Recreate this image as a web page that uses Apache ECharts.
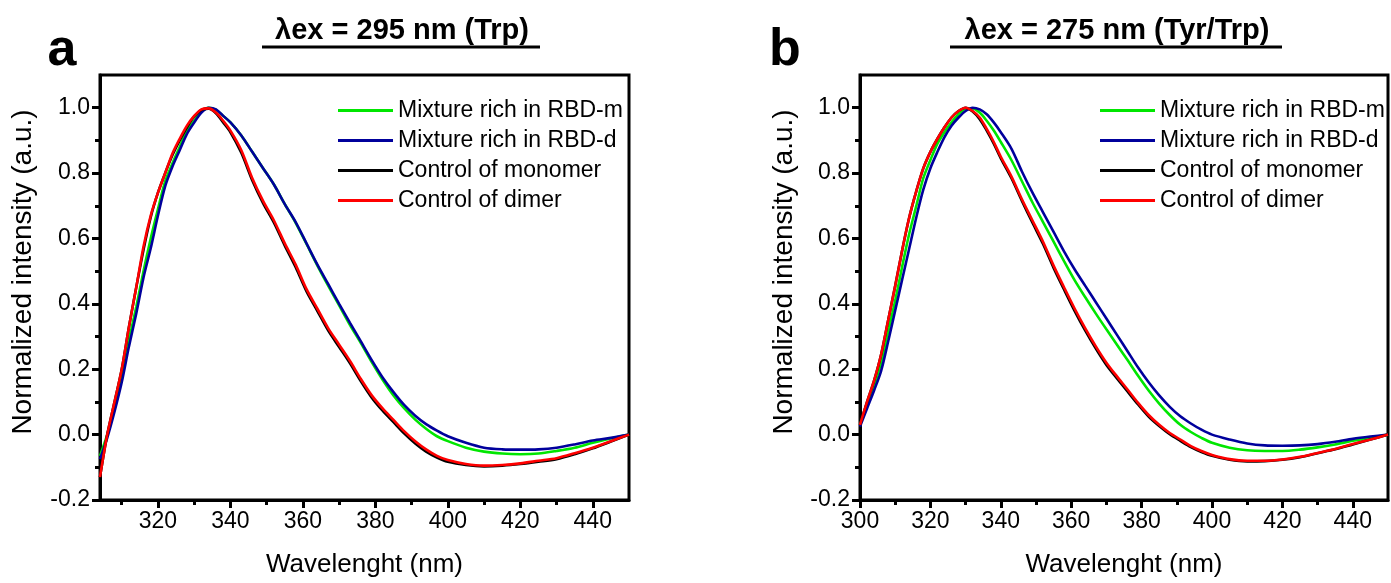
<!DOCTYPE html>
<html>
<head>
<meta charset="utf-8">
<script src="https://cdn.jsdelivr.net/npm/echarts@6/dist/echarts.min.js"></script>
<style>
  html, body { margin: 0; padding: 0; background: #fff; }
  #chart { width: 1391px; height: 583px; }
</style>
</head>
<body>
<div id="chart"></div>
<script>
// names of the four spectra (legend order)
const seriesNames = ['Mixture rich in RBD-m', 'Mixture rich in RBD-d', 'Control of monomer', 'Control of dimer'];
const seriesColors = ['#00e600', '#00009c', '#000000', '#ff0000'];

// panel a : lambda ex = 295 nm
const waveA = [304, 306, 308, 310, 312, 314, 316, 318, 320, 322, 324, 326, 328, 330, 332, 334, 336, 338, 340, 343, 346, 349, 352, 355, 358, 361, 364, 367, 370, 373, 376, 379, 382, 385, 388, 391, 394, 397, 400, 405, 410, 415, 420, 425, 430, 435, 440, 445, 450];
const aRBDm = [-0.065, 0.0, 0.08, 0.18, 0.29, 0.39, 0.50, 0.60, 0.69, 0.775, 0.83, 0.88, 0.93, 0.96, 0.988, 1.0, 0.993, 0.975, 0.955, 0.915, 0.865, 0.815, 0.765, 0.705, 0.648, 0.583, 0.517, 0.455, 0.395, 0.335, 0.28, 0.222, 0.168, 0.12, 0.08, 0.046, 0.018, -0.005, -0.02, -0.04, -0.052, -0.058, -0.06, -0.058, -0.05, -0.04, -0.025, -0.012, 0.0];
const aRBDd = [-0.075, -0.01, 0.07, 0.16, 0.27, 0.37, 0.48, 0.57, 0.67, 0.76, 0.82, 0.87, 0.92, 0.955, 0.985, 1.0, 0.995, 0.975, 0.955, 0.915, 0.865, 0.815, 0.765, 0.705, 0.65, 0.585, 0.52, 0.46, 0.40, 0.342, 0.285, 0.228, 0.175, 0.13, 0.09, 0.058, 0.032, 0.012, -0.005, -0.025, -0.04, -0.045, -0.046, -0.045, -0.04, -0.03, -0.018, -0.01, 0.0];
const aMono = [-0.13, 0.0, 0.10, 0.20, 0.33, 0.45, 0.565, 0.665, 0.74, 0.80, 0.855, 0.90, 0.94, 0.973, 0.993, 0.997, 0.983, 0.955, 0.925, 0.862, 0.778, 0.708, 0.648, 0.578, 0.512, 0.438, 0.378, 0.318, 0.268, 0.218, 0.163, 0.113, 0.073, 0.038, 0.003, -0.027, -0.052, -0.07, -0.083, -0.093, -0.097, -0.095, -0.09, -0.083, -0.075, -0.06, -0.042, -0.021, 0.0];
const aDimer = [-0.13, 0.0, 0.10, 0.20, 0.33, 0.45, 0.575, 0.67, 0.74, 0.80, 0.86, 0.905, 0.945, 0.975, 0.995, 0.998, 0.985, 0.96, 0.93, 0.87, 0.785, 0.715, 0.655, 0.585, 0.52, 0.445, 0.385, 0.325, 0.275, 0.225, 0.17, 0.12, 0.08, 0.045, 0.01, -0.02, -0.045, -0.065, -0.078, -0.09, -0.095, -0.093, -0.088, -0.08, -0.072, -0.057, -0.04, -0.02, 0.0];

// panel b : lambda ex = 275 nm
const waveB = [300, 302, 304, 306, 308, 310, 312, 314, 316, 318, 320, 322, 324, 326, 328, 330, 332, 334, 336, 338, 340, 343, 346, 349, 352, 355, 358, 361, 364, 367, 370, 373, 376, 379, 382, 385, 388, 391, 394, 397, 400, 405, 410, 415, 420, 425, 430, 435, 440, 445, 450];
const bRBDm = [0.03, 0.09, 0.15, 0.22, 0.315, 0.41, 0.515, 0.615, 0.70, 0.785, 0.84, 0.89, 0.925, 0.955, 0.98, 0.997, 0.998, 0.985, 0.96, 0.93, 0.895, 0.84, 0.775, 0.71, 0.65, 0.59, 0.53, 0.472, 0.42, 0.37, 0.322, 0.275, 0.228, 0.18, 0.135, 0.095, 0.06, 0.03, 0.008, -0.01, -0.025, -0.04, -0.048, -0.05, -0.05, -0.046, -0.039, -0.03, -0.019, -0.01, 0.0];
const bRBDd = [0.025, 0.08, 0.135, 0.195, 0.285, 0.38, 0.475, 0.57, 0.665, 0.75, 0.815, 0.865, 0.91, 0.945, 0.97, 0.99, 1.0, 0.995, 0.98, 0.955, 0.925, 0.875, 0.805, 0.74, 0.68, 0.62, 0.56, 0.505, 0.455, 0.405, 0.355, 0.305, 0.255, 0.205, 0.16, 0.12, 0.085, 0.056, 0.034, 0.015, 0.0, -0.015, -0.027, -0.033, -0.034, -0.033, -0.029, -0.022, -0.013, -0.006, 0.0];
const bMono = [0.03, 0.10, 0.165, 0.245, 0.35, 0.455, 0.565, 0.665, 0.745, 0.815, 0.865, 0.905, 0.94, 0.97, 0.99, 1.0, 0.988, 0.965, 0.93, 0.89, 0.845, 0.785, 0.715, 0.648, 0.583, 0.51, 0.443, 0.378, 0.318, 0.263, 0.213, 0.172, 0.132, 0.092, 0.055, 0.026, 0.001, -0.019, -0.038, -0.053, -0.065, -0.077, -0.082, -0.081, -0.077, -0.069, -0.057, -0.045, -0.03, -0.015, 0.0];
const bDimer = [0.03, 0.10, 0.165, 0.245, 0.35, 0.455, 0.565, 0.665, 0.745, 0.815, 0.865, 0.905, 0.94, 0.97, 0.99, 1.0, 0.99, 0.97, 0.935, 0.895, 0.85, 0.79, 0.72, 0.655, 0.59, 0.517, 0.45, 0.385, 0.325, 0.27, 0.22, 0.178, 0.138, 0.097, 0.06, 0.03, 0.005, -0.015, -0.035, -0.05, -0.062, -0.075, -0.08, -0.08, -0.076, -0.068, -0.056, -0.044, -0.029, -0.015, 0.0];

// tick positions
const xMajorA = [320, 340, 360, 380, 400, 420, 440];
const xMinorA = [310, 330, 350, 370, 390, 410, 430];
const xMajorB = [300, 320, 340, 360, 380, 400, 420, 440];
const xMinorB = [310, 330, 350, 370, 390, 410, 430];
const yMajor = [-0.2, 0, 0.2, 0.4, 0.6, 0.8, 1.0];
const yMinor = [-0.1, 0.1, 0.3, 0.5, 0.7, 0.9];

const FONT = '"Liberation Sans", Arial, sans-serif';
const chart = echarts.init(document.getElementById('chart'), null, { renderer: 'canvas' });

const toPairs = (wave, vals) => wave.map((w, i) => [w, vals[i]]);

// major axis + overlaid minor-tick axis for x
const makeX = (grid, min, max, major, minor) => [
  {
    type: 'value', gridIndex: grid, min: min, max: max, position: 'bottom',
    name: 'Wavelenght (nm)', nameLocation: 'middle', nameGap: 52,
    nameTextStyle: { color: '#000', fontSize: 26, fontFamily: FONT },
    axisLine: { show: true, onZero: false, lineStyle: { color: '#000', width: 3 } },
    axisTick: { show: true, customValues: major, length: 8, lineStyle: { color: '#000', width: 3 } },
    axisLabel: { customValues: major, color: '#000', fontSize: 23, fontFamily: FONT, margin: 10 },
    splitLine: { show: false }
  },
  {
    type: 'value', gridIndex: grid, min: min, max: max, position: 'bottom',
    axisLine: { show: false, onZero: false },
    axisTick: { show: true, customValues: minor, length: 5, lineStyle: { color: '#000', width: 3 } },
    axisLabel: { show: false },
    splitLine: { show: false }
  }
];

const makeY = (grid) => [
  {
    type: 'value', gridIndex: grid, min: -0.2, max: 1.1, position: 'left',
    axisLine: { show: true, onZero: false, lineStyle: { color: '#000', width: 3 } },
    axisTick: { show: true, customValues: yMajor, length: 8, lineStyle: { color: '#000', width: 3 } },
    axisLabel: { customValues: yMajor, color: '#000', fontSize: 23, fontFamily: FONT, margin: 10,
      formatter: (v) => v.toFixed(1) },
    splitLine: { show: false }
  },
  {
    type: 'value', gridIndex: grid, min: -0.2, max: 1.1, position: 'left',
    axisLine: { show: false, onZero: false },
    axisTick: { show: true, customValues: yMinor, length: 5, lineStyle: { color: '#000', width: 3 } },
    axisLabel: { show: false },
    splitLine: { show: false }
  }
];

const makeSeries = (xIdx, yIdx, wave, sets) => sets.map((vals, i) => ({
  type: 'line', name: seriesNames[i], xAxisIndex: xIdx, yAxisIndex: yIdx,
  data: toPairs(wave, vals), showSymbol: false, smooth: 0.3,
  lineStyle: { color: seriesColors[i], width: 2.6 }, itemStyle: { color: seriesColors[i] },
  z: 2 + i
}));

const makeLegend = (left) => ({
  data: seriesNames, orient: 'vertical', left: left, top: 94,
  icon: 'rect', itemWidth: 55, itemHeight: 3, itemGap: 7, selectedMode: false,
  textStyle: { color: '#000', fontSize: 23, lineHeight: 23, fontFamily: FONT }
});

// headings, underlines, panel letters and y titles
const heading = (cx, text, x1, x2, letter, lx, yx) => [
  { type: 'text', x: lx, y: 51, style: { text: letter, font: 'bold 52px ' + FONT, fill: '#000', align: 'center', verticalAlign: 'middle' } },
  { type: 'text', x: cx, y: 31, style: { text: text, font: 'bold 29px ' + FONT, fill: '#000', align: 'center', verticalAlign: 'middle' } },
  { type: 'line', shape: { x1: x1, y1: 47, x2: x2, y2: 47 }, style: { stroke: '#000', lineWidth: 3 } },
  { type: 'text', x: yx, y: 272, rotation: Math.PI / 2,
    style: { text: 'Normalized intensity (a.u.)', font: '28px ' + FONT, fill: '#000', align: 'center', verticalAlign: 'middle' } }
];

const option = {
  backgroundColor: '#fff',
  animation: false,
  grid: [
    { left: 100, right: 762, top: 75, bottom: 79, show: true, borderColor: '#000', borderWidth: 3 },
    { left: 860, right: 3, top: 75, bottom: 79, show: true, borderColor: '#000', borderWidth: 3 }
  ],
  xAxis: [...makeX(0, 304, 450, xMajorA, xMinorA), ...makeX(1, 300, 450, xMajorB, xMinorB)],
  yAxis: [...makeY(0), ...makeY(1)],
  legend: [makeLegend(333), makeLegend(1095)],
  series: [
    ...makeSeries(0, 0, waveA, [aRBDm, aRBDd, aMono, aDimer]),
    ...makeSeries(2, 2, waveB, [bRBDm, bRBDd, bMono, bDimer])
  ],
  graphic: [
    ...heading(402, 'λex = 295 nm (Trp)', 262, 540, 'a', 62, 23),
    ...heading(1117, 'λex = 275 nm (Tyr/Trp)', 950, 1282, 'b', 785, 784)
  ]
};

chart.setOption(option);
</script>
</body>
</html>
